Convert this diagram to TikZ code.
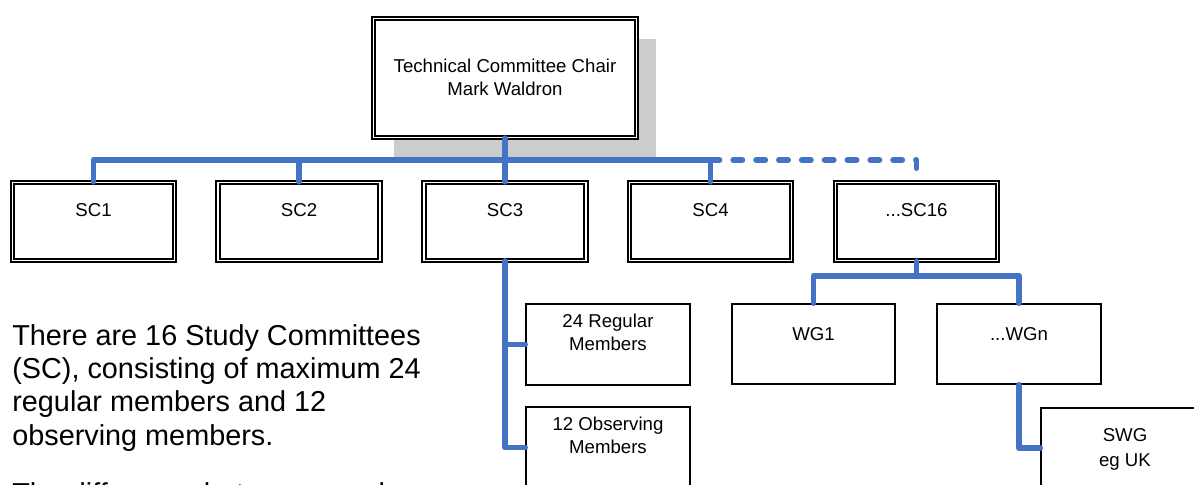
\documentclass[tikz,border=0pt]{standalone}
\usepackage{fontspec}
\setmainfont{Liberation Sans}
\usetikzlibrary{positioning,shadows}
\definecolor{linkblue}{RGB}{68,114,196}
\definecolor{shadowgray}{RGB}{204,204,204}

\tikzset{
  dbox/.style={draw,double,line width=1pt,double distance=1pt,fill=white,inner sep=0},
  sbox/.style={draw,line width=1.1pt,fill=white,inner sep=0},
  boxtext/.style={inner sep=0,align=center,font=\fontsize{10.6pt}{12.6pt}\selectfont},
  link/.style={draw=linkblue,line width=3.4pt,line cap=round,line join=round},
  dashlink/.style={dash pattern=on 5.1pt off 7.9pt}
}

\begin{document}
\begin{tikzpicture}[x=0.02cm,y=-0.02cm]
    \useasboundingbox (0,0) rectangle (1194,484);
    \clip (0,0) rectangle (1194,484);
    %boxes
    \node (chair) at (505,78) [dbox,minimum width=5.26cm,minimum height=2.38cm,
        drop shadow={shadow xshift=0.4cm,shadow yshift=-0.4cm,fill=shadowgray,opacity=1}]{};
    \node (sc1) at (93.5,221.5) [dbox,minimum width=3.24cm,minimum height=1.56cm]{};
    \node (sc2) at (299,221.5) [dbox,minimum width=3.24cm,minimum height=1.56cm]{};
    \node (sc3) at (505,221.5) [dbox,minimum width=3.24cm,minimum height=1.56cm]{};
    \node (sc4) at (710.5,221.5) [dbox,minimum width=3.24cm,minimum height=1.56cm]{};
    \node (sc16) at (916.5,221.5) [dbox,minimum width=3.24cm,minimum height=1.56cm]{};
    \node (reg) at (608,344.5) [sbox,minimum width=3.28cm,minimum height=1.62cm]{};
    \node (obs) at (608,447.5) [sbox,minimum width=3.28cm,minimum height=1.62cm]{};
    \node (wg1) at (813.5,344) [sbox,minimum width=3.26cm,minimum height=1.6cm]{};
    \node (wgn) at (1019,344) [sbox,minimum width=3.28cm,minimum height=1.6cm]{};
    \node (swg) at (1123,448) [sbox,minimum width=3.28cm,minimum height=1.6cm]{};

    %box texts (base = last line)
    \node (chairtxt) at (505,95) [boxtext,anchor=base]{Technical Committee Chair\\Mark Waldron};
    \node (sc1txt) at (sc1 |- 0,216) [boxtext,anchor=base]{SC1};
    \node (sc2txt) at (sc2 |- 0,216) [boxtext,anchor=base]{SC2};
    \node (sc3txt) at (sc3 |- 0,216) [boxtext,anchor=base]{SC3};
    \node (sc4txt) at (sc4 |- 0,216) [boxtext,anchor=base]{SC4};
    \node (sc16txt) at (sc16 |- 0,216) [boxtext,anchor=base]{...SC16};
    \node (regtxt) at (608,350) [boxtext,anchor=base]{24 Regular\\Members};
    \node (obstxt) at (608,453) [boxtext,anchor=base]{12 Observing\\Members};
    \node (wg1txt) at (wg1 |- 0,340) [boxtext,anchor=base]{WG1};
    \node (wgntxt) at (wgn |- 0,340) [boxtext,anchor=base]{...WGn};
    \node (swgtxt) at (1125,466) [boxtext,anchor=base,font=\fontsize{10.6pt}{14.2pt}\selectfont]{SWG\\eg UK};

    %links
    \coordinate (bus) at (0,160);
    \coordinate (wgbus) at (0,276);
    \draw [link] (sc1.north) |- (bus -| sc4.north) -- (sc4.north);
    \draw [link] (sc2.north) -- (sc2.north |- bus);
    \draw [link] (chair.south) -- (sc3.north);
    \draw [link,dashlink] (bus -| sc4.north) -- (bus -| sc16.north) -- ++(0,8);
    \draw [link] (sc3.south) |- (reg.west);
    \draw [link] (sc3.south) |- (obs.west);
    \draw [link] (sc16.south) -- (sc16.south |- wgbus);
    \draw [link] (wg1.north) |- (wgbus -| wgn.north) -- (wgn.north);
    \draw [link] (wgn.south) |- (swg.west);

    %notes
    \node (para1) at (12,445) [anchor=base west,inner sep=0,align=left,
        font=\fontsize{16.4pt}{18.9pt}\selectfont]{There are 16 Study Committees\\(SC), consisting of maximum 24\\regular members and 12\\observing members.};
    \node (para2) at (12,503) [anchor=base west,inner sep=0,
        font=\fontsize{16.4pt}{18.9pt}\selectfont]{The difference between regular};
\end{tikzpicture}
\end{document}
